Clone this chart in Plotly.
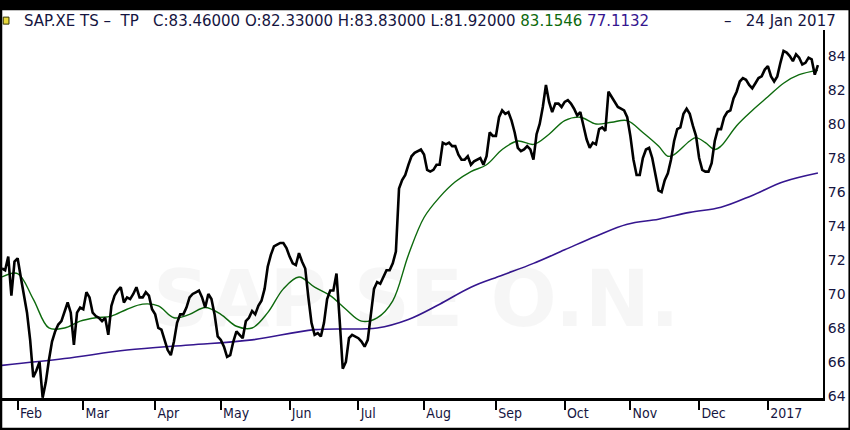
import pandas as pd
import plotly.graph_objects as go

# daily closes, 25 Jan 2016 .. 24 Jan 2017 (weekdays)
close = [
    71.5, 71.4, 72.2, 69.9, 71.9, 72.1, 71.0, 70.0, 68.9, 67.3,
    65.1, 65.5, 66.0, 63.9, 64.8, 66.1, 67.2, 67.8, 68.2, 68.4,
    69.0, 69.5, 68.9, 67.0, 68.9, 69.2, 69.1, 70.1, 69.8, 68.9,
    68.7, 68.6, 68.4, 68.6, 67.6, 69.3, 69.9, 70.2, 70.4, 69.5,
    69.8, 69.7, 70.0, 70.4, 69.8, 69.8, 70.1, 69.9, 69.1, 68.8,
    68.0, 67.9, 67.3, 66.7, 66.4, 67.2, 68.3, 68.8, 68.8, 69.2,
    69.8, 70.0, 70.1, 70.2, 69.8, 69.2, 70.0, 69.7, 68.8, 67.5,
    67.3, 66.9, 66.3, 66.4, 67.2, 67.8, 67.6, 67.4, 68.4, 68.6,
    69.0, 68.8, 69.3, 69.6, 70.3, 71.6, 72.3, 72.8, 72.9, 73.0,
    73.0, 72.7, 72.2, 71.8, 71.7, 72.4, 71.9, 71.5, 69.8, 68.3,
    67.6, 67.7, 67.5, 68.3, 69.7, 70.2, 70.2, 71.2, 68.5, 65.6,
    66.0, 67.4, 67.6, 67.5, 67.4, 67.2, 66.9, 67.3, 68.7, 70.3,
    70.7, 70.6, 71.0, 71.4, 71.4, 71.8, 72.5, 76.2, 76.7, 77.0,
    77.6, 78.1, 78.3, 78.4, 78.5, 78.2, 77.3, 77.2, 77.3, 77.6,
    77.6, 78.9, 78.8, 78.9, 78.7, 78.7, 78.2, 77.9, 77.9, 78.1,
    77.6, 77.8, 77.9, 78.0, 77.6, 78.1, 79.5, 79.3, 79.3, 80.4,
    80.8, 80.6, 80.7, 80.2, 79.5, 78.6, 78.4, 78.5, 78.7, 78.5,
    77.9, 79.4, 80.0, 81.0, 82.3, 81.3, 80.7, 81.2, 81.2, 81.0,
    81.3, 81.4, 81.2, 80.9, 80.5, 80.7, 79.9, 79.1, 78.6, 78.9,
    78.8, 79.7, 79.8, 79.6, 81.9, 81.6, 81.3, 81.0, 80.9, 80.8,
    80.4, 79.3, 77.9, 77.0, 77.0, 78.0, 78.5, 78.6, 78.0, 77.0,
    76.1, 76.0, 76.7, 77.1, 77.9, 79.0, 79.7, 79.8, 80.6, 80.9,
    80.6, 79.9, 79.3, 78.0, 77.3, 77.2, 77.2, 77.7, 79.0, 79.7,
    79.7, 80.4, 80.7, 80.8, 81.5, 81.9, 82.5, 82.7, 82.6, 82.3,
    82.1, 82.4, 82.7, 82.8, 83.2, 83.4, 82.8, 82.5, 82.8, 83.6,
    84.3, 84.2, 84.0, 83.7, 84.1, 83.9, 83.5, 83.6, 83.9, 83.8,
    82.9, 83.46,
]

# moving averages, read at selected trading days (index into close)
ma_fast_idx = [0, 5, 10, 15, 20, 25, 30, 35, 40, 45, 50, 55, 60, 65, 70, 75,
               80, 85, 90, 95, 100, 105, 110, 115, 120, 125, 130, 135, 140,
               145, 150, 155, 160, 165, 170, 175, 180, 185, 190, 195, 200,
               205, 210, 213, 215, 220, 222, 225, 228, 230, 235, 240, 245,
               250, 255, 261]
ma_fast = [71.0, 71.2, 69.7, 68.0, 68.0, 68.4, 68.6, 68.7, 69.1, 69.4, 69.3,
           68.6, 68.8, 69.2, 68.8, 68.1, 68.0, 68.9, 70.3, 71.0, 70.4, 69.9,
           69.1, 68.4, 68.6, 69.6, 72.3, 74.5, 75.7, 76.6, 77.2, 77.6, 78.5,
           79.0, 78.8, 79.4, 80.2, 80.4, 80.0, 80.1, 80.2, 79.5, 78.7, 78.1,
           78.2, 79.0, 79.2, 78.9, 78.5, 78.7, 79.9, 80.8, 81.6, 82.4, 82.9,
           83.1546]

ma_slow_idx = [0, 20, 40, 60, 80, 100, 120, 130, 140, 150, 160, 170, 180,
               190, 200, 210, 220, 230, 240, 250, 261]
ma_slow = [65.8, 66.2, 66.7, 67.0, 67.3, 67.9, 68.0, 68.5, 69.4, 70.4, 71.1,
           71.8, 72.6, 73.4, 74.1, 74.4, 74.8, 75.1, 75.8, 76.6, 77.1132]

tick_dates = ["2016-02-01", "2016-03-01", "2016-04-01", "2016-05-02",
              "2016-06-01", "2016-07-01", "2016-08-01", "2016-09-01",
              "2016-10-03", "2016-11-01", "2016-12-01", "2017-01-02"]
tick_text = ["Feb", "Mar", "Apr", "May", "Jun", "Jul", "Aug", "Sep",
             "Oct", "Nov", "Dec", "2017"]

dates = pd.bdate_range("2016-01-25", periods=len(close))

NAVY = "#15153f"
GREEN = "#0d6a0d"
PURPLE = "#35168f"

fig = go.Figure()
fig.add_trace(go.Scatter(x=dates[ma_slow_idx], y=ma_slow, mode="lines",
                         line=dict(color=PURPLE, width=1.6, shape="spline")))
fig.add_trace(go.Scatter(x=dates[ma_fast_idx], y=ma_fast, mode="lines",
                         line=dict(color=GREEN, width=1.4, shape="spline")))
fig.add_trace(go.Scatter(x=dates, y=close, mode="lines",
                         line=dict(color="black", width=2.6)))

# faint watermark (translucent so the lines still show through)
fig.add_annotation(text="<b>SAP SE O.N.</b>", xref="paper", yref="paper",
                   x=0.505, y=0.27, yanchor="middle", showarrow=False,
                   font=dict(family="DejaVu Sans", size=78,
                             color="rgba(0,0,0,0.035)"))

hdr = ("SAP.XE TS \u2013  TP   C:83.46000 O:82.33000 H:83.83000 L:81.92000 "
       f"<span style='color:{GREEN}'>83.1546</span> "
       f"<span style='color:{PURPLE}'>77.1132</span>")
fig.add_annotation(text=hdr, xref="paper", yref="paper", x=0.0244, y=1.0245,
                   xanchor="left", yanchor="middle", showarrow=False,
                   font=dict(family="DejaVu Sans", size=15, color=NAVY))
fig.add_annotation(text="\u2013   24 Jan 2017", xref="paper", yref="paper",
                   x=1.0183, y=1.0245, xanchor="right", yanchor="middle",
                   showarrow=False,
                   font=dict(family="DejaVu Sans", size=15, color=NAVY))

# frame and the little marker box
fig.add_shape(type="rect", xref="paper", yref="paper", x0=-0.01, x1=1.05,
              y0=1.054, y1=1.1, fillcolor="black", line_width=0)
fig.add_shape(type="line", xref="paper", yref="paper", x0=-0.0012, x1=-0.0012,
              y0=-0.1, y1=1.06, line=dict(color="black", width=2.5))
fig.add_shape(type="line", xref="paper", yref="paper", x0=1.0325, x1=1.0325,
              y0=-0.1, y1=1.06, line=dict(color="black", width=2.5))
fig.add_shape(type="line", xref="paper", yref="paper", x0=-0.01, x1=1.05,
              y0=-0.0845, y1=-0.0845, line=dict(color="black", width=2.5))
fig.add_shape(type="rect", xref="paper", yref="paper", x0=0.0015, x1=0.0085,
              y0=1.016, y1=1.035, fillcolor="#e8d83a",
              line=dict(color="#333300", width=1))

fig.update_layout(
    width=850, height=430,
    margin=dict(l=2, r=27, t=30, b=32),
    paper_bgcolor="white", plot_bgcolor="white",
    showlegend=False,
    xaxis=dict(
        type="date",
        range=["2016-01-25", "2017-01-25 15:00"],
        rangebreaks=[dict(bounds=["sat", "mon"])],
        tickvals=tick_dates, ticktext=tick_text,
        ticks="outside", ticklen=9, tickwidth=2, tickcolor="black",
        ticklabelposition="outside right",
        showline=True, linecolor="black", linewidth=2.5,
        showgrid=False, zeroline=False,
        tickfont=dict(family="DejaVu Sans Condensed, Liberation Sans Narrow, DejaVu Sans",
                      size=14, color=NAVY),
    ),
    yaxis=dict(
        side="right",
        range=[63.88, 85.53],
        tickvals=list(range(64, 85, 2)),
        ticks="", ticklen=0, showline=True, linecolor="black", linewidth=2,
        showgrid=False, zeroline=False,
        tickfont=dict(family="DejaVu Sans", size=14, color=NAVY),
    ),
)

# page body has a default margin; drop it so the figure fills the window
fig.write_html("out.html", config={"displayModeBar": False},
               post_script="document.body.style.margin='0';")
